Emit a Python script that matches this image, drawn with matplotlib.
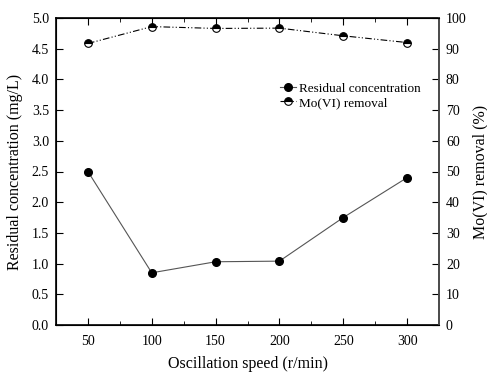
import matplotlib
matplotlib.use("Agg")
import matplotlib.pyplot as plt

# data
speed = [50, 100, 150, 200, 250, 300]
residual = [2.50, 0.85, 1.03, 1.04, 1.75, 2.40]
removal = [91.7, 97.2, 96.6, 96.7, 94.2, 92.0]

plt.rcParams['font.family'] = ['Liberation Serif', 'DejaVu Serif']
plt.rcParams['font.size'] = 10

fig = plt.figure(figsize=(4.87, 3.72), dpi=100)
ax = fig.add_axes([56 / 487, 1 - 325 / 372, 383 / 487, 307 / 372])
ax2 = ax.twinx()

l1, = ax.plot(speed, residual, color='#555555', lw=0.8, marker='o', ms=5.5,
              mfc='black', mec='black', label='Residual concentration')
l2, = ax2.plot(speed, removal, color='black', lw=0.8, ls=(0, (6, 2, 1, 2, 1, 2)),
               marker='o', ms=5.5, fillstyle='top', mfc='black', mfcalt='white',
               mec='black', mew=0.8, label='Mo(VI) removal')

ax.set_xlim(25, 325)
ax.set_ylim(0, 5)
ax2.set_ylim(0, 100)
ax.set_xticks(speed)
ax.set_xticks([75, 125, 175, 225, 275], minor=True)
ax.set_yticks([0, 0.5, 1, 1.5, 2, 2.5, 3, 3.5, 4, 4.5, 5])
ax.set_yticklabels([f"{v:.1f}" for v in ax.get_yticks()])
ax2.set_yticks(range(0, 101, 10))

ax.tick_params(axis='x', which='both', direction='in', top=True, length=5, pad=7)
ax.tick_params(axis='x', which='minor', length=3)
ax.tick_params(axis='y', direction='in', length=5, pad=5)
ax2.tick_params(axis='y', direction='in', length=5, pad=5)

for s in ax.spines.values():
    s.set_linewidth(1.2)
ax2.spines['right'].set_color('#555555')
ax2.spines['right'].set_linewidth(1.2)

ax.set_xlabel('Oscillation speed (r/min)', fontsize=11.5, labelpad=6)
ax.set_ylabel('Residual concentration (mg/L)', fontsize=11.5, labelpad=6)
ax2.set_ylabel('Mo(VI) removal (%)', fontsize=11.5, labelpad=4)

ax.legend([l1, l2], [l1.get_label(), l2.get_label()], frameon=False,
          loc='upper left', bbox_to_anchor=(0.585, 0.79), handlelength=1.2,
          handletextpad=0.2, labelspacing=0.15, fontsize=9.5,
          borderaxespad=0, borderpad=0)

fig.savefig('out.png', dpi=100)
